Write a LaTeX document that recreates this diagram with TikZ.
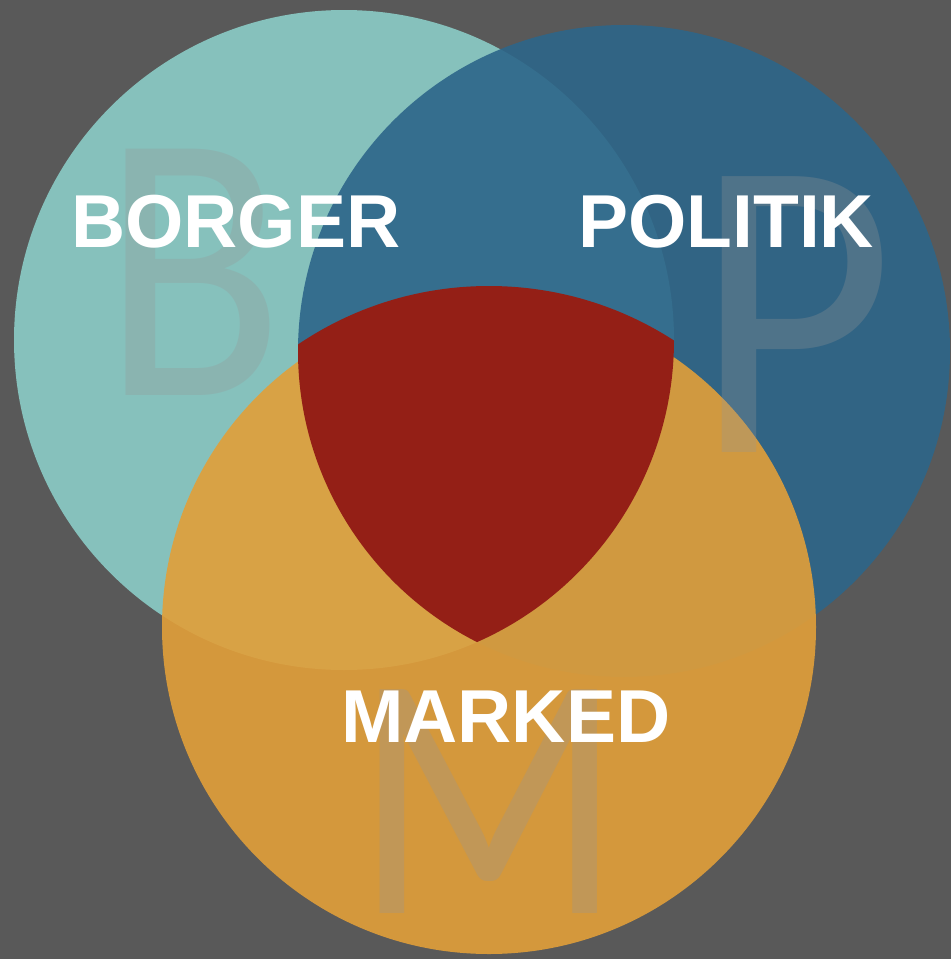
\documentclass[tikz,border=0pt]{standalone}
\usepackage{fontspec}
\setmainfont{Liberation Sans}
\newfontfamily\bigfont{Carlito}
\usepackage{tikz}

\definecolor{bgGray}{RGB}{89,89,89}
\definecolor{borgerTeal}{RGB}{134,193,188}
\definecolor{politikBlue}{RGB}{45,102,137}
\definecolor{markedOrange}{RGB}{226,159,57}
\definecolor{kjerneRed}{RGB}{148,31,22}
\definecolor{letterGray}{RGB}{150,150,150}

\begin{document}
\begin{tikzpicture}[x=1pt,y=-1pt,
	lbl/.style={text=white,inner sep=0pt,anchor=base west,font=\bfseries\fontsize{75}{80}\selectfont},
	bigletter/.style={text=letterGray,opacity=0.3,inner sep=0pt,anchor=base}]
	
	%%% Bakgrunn
	\fill[bgGray] (0,0) rectangle (951,959);
	\useasboundingbox (0,0) rectangle (951,959);
	
	%%% Sirkler
	\coordinate (cb) at (344,340);
	\coordinate (cp) at (624,351);
	\coordinate (cm) at (489,627);
	\fill[borgerTeal] (cb) circle (330);
	\fill[politikBlue,opacity=0.9] (cp) circle (326);
	\fill[markedOrange,opacity=0.9] (cm) circle (327);
	
	%% Kjerne (snitt)
	\begin{scope}
		\clip (cb) circle (330);
		\clip (cp) circle (326);
		\fill[kjerneRed] (cm) circle (341);
	\end{scope}
	
	%%% Store bokstaver
	\node[bigletter,xscale=0.87,font=\bigfont\fontsize{384}{390}\selectfont] (bB) at (193,395) {B};
	\node[bigletter,xscale=0.90,font=\bigfont\fontsize{430}{440}\selectfont] (bP) at (794,452) {P};
	\node[bigletter,xscale=0.90,font=\bigfont\fontsize{349}{360}\selectfont] (bM) at (489,913) {M};
	
	%%% Navn
	\node[lbl] (borger) at (71,247) {BORGER};
	\node[lbl] (politik) at (578,247) {POLITIK};
	\node[lbl] (marked) at (341,742) {MARKED};
\end{tikzpicture}
\end{document}
